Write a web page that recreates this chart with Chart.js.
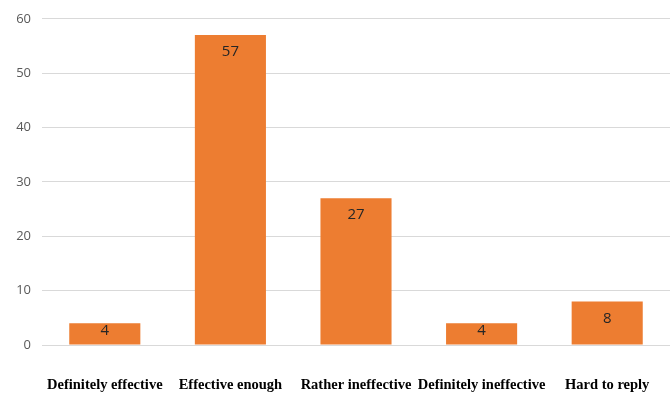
<!DOCTYPE html>
<html>
<head>
<meta charset="utf-8">
<script src="https://cdn.jsdelivr.net/npm/chart.js@4"></script>
<style>
  html, body { margin: 0; padding: 0; background: #ffffff; }
  #wrap { width: 672px; height: 394px; }
</style>
</head>
<body>
<div id="wrap"><canvas id="chart" width="672" height="394"></canvas></div>
<script>
const categories = ['Definitely effective', 'Effective enough', 'Rather ineffective', 'Definitely ineffective', 'Hard to reply'];
const shares = [4, 57, 27, 4, 8];
const yTicks = [0, 10, 20, 30, 40, 50, 60];

// Writes each bar's value just inside its top edge (centred in short bars)
const valueLabels = {
  id: 'valueLabels',
  afterDatasetsDraw(chart) {
    const ctx = chart.ctx;
    const meta = chart.getDatasetMeta(0);
    ctx.save();
    ctx.font = '15px "Open Sans", "Liberation Sans", sans-serif';
    ctx.fillStyle = '#262626';
    ctx.textAlign = 'center';
    ctx.textBaseline = 'middle';
    meta.data.forEach((bar, i) => {
      const y = Math.min(bar.y + 17, (bar.y + bar.base) / 2 - 3);
      ctx.fillText(String(shares[i]), bar.x, y);
    });
    ctx.restore();
  }
};

new Chart(document.getElementById('chart'), {
  type: 'bar',
  data: {
    labels: categories,
    datasets: [{
      data: shares,
      backgroundColor: '#ED7D31',
      borderWidth: 0,
      categoryPercentage: 1,
      barPercentage: 0.566
    }]
  },
  options: {
    responsive: false,
    animation: false,
    devicePixelRatio: 1,
    layout: { padding: { top: 16, right: 2, left: 0, bottom: 0 } },
    plugins: {
      legend: { display: false },
      tooltip: { enabled: false }
    },
    scales: {
      x: {
        grid: { display: false, drawTicks: false },
        border: { display: false },
        ticks: {
          padding: 32,
          maxRotation: 0,
          autoSkip: false,
          color: '#000000',
          font: { family: '"Liberation Serif", "Times New Roman", serif', size: 14.5, weight: 'bold' }
        },
        afterFit(scale) {
          scale.height = 49;
          // category labels sit well inside their slots, so no side gutter is needed
          scale.paddingLeft = 0;
          scale.paddingRight = 0;
        }
      },
      y: {
        min: 0,
        max: 60,
        afterBuildTicks(scale) { scale.ticks = yTicks.map(v => ({ value: v })); },
        grid: { color: '#d9d9d9', lineWidth: 1, drawTicks: false },
        border: { display: false },
        ticks: {
          padding: 11,
          color: '#595959',
          font: { family: '"Open Sans", "Liberation Sans", sans-serif', size: 13 }
        },
        afterFit(scale) { scale.width = 42; }
      }
    }
  },
  plugins: [valueLabels]
});
</script>
</body>
</html>
